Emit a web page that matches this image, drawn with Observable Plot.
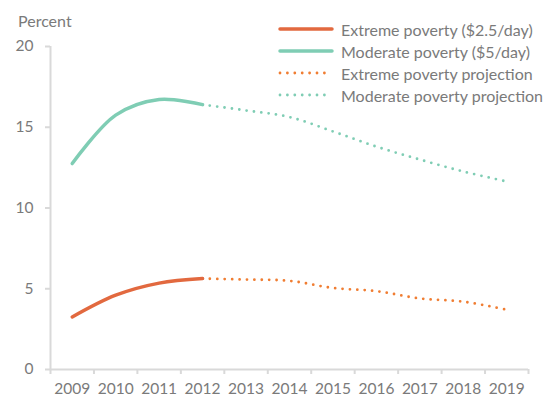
<!DOCTYPE html>
<html>
<head>
<meta charset="utf-8">
<script src="https://cdn.jsdelivr.net/npm/d3@7"></script>
<script src="https://cdn.jsdelivr.net/npm/@observablehq/plot@0.6"></script>
<style>
  body { margin: 0; background: #fff; font-family: Lato, "Open Sans", sans-serif; }
  #wrap { position: relative; width: 545px; height: 397px; }
  #ylabel { position: absolute; left: 18px; top: 11px; font-size: 16px; color: #7a7a7a; }
  #legend { position: absolute; left: 278px; top: 18px; font-size: 16px; color: #7a7a7a; }
  .row { display: flex; align-items: center; height: 22px; }
  .row svg { margin-right: 7px; }
</style>
</head>
<body>
<div id="wrap">
  <div id="chart"></div>
  <div id="ylabel">Percent</div>
  <div id="legend"></div>
</div>
<script>
const years = [2009, 2010, 2011, 2012, 2013, 2014, 2015, 2016, 2017, 2018, 2019];
const actualYears = [2009, 2010, 2011, 2012];
const extremeActual = [3.25, 4.6, 5.35, 5.63];
const moderateActual = [12.75, 15.75, 16.72, 16.4];
const projYears = [2012, 2013, 2014, 2015, 2016, 2017, 2018, 2019];
const extremeProj = [5.63, 5.57, 5.49, 5.05, 4.85, 4.4, 4.2, 3.7];
const moderateProj = [16.4, 16.04, 15.63, 14.74, 13.8, 13.0, 12.26, 11.64];
const yTicks = [0, 5, 10, 15, 20];

const colors = {
  extreme: "#e2693f",
  moderate: "#7fcdb4",
  extremeProj: "#f07d32",
  moderateProj: "#7fcdb4"
};

const xDomain = [years[0] - 0.5, years[years.length - 1] + 0.5];
const edges = [...years.map(y => y - 0.5), years[years.length - 1] + 0.5];

const toRows = (xs, vs) => xs.map((x, i) => ({x, v: vs[i]}));

const chart = Plot.plot({
  width: 545,
  height: 397,
  marginLeft: 50,
  marginRight: 17,
  marginTop: 46,
  marginBottom: 28,
  style: { fontFamily: "Lato, 'Open Sans', sans-serif", fontSize: "15.5px", color: "#7a7a7a", background: "#fff" },
  x: { domain: xDomain },
  y: { domain: [0, 20] },
  marks: [
    Plot.ruleX([xDomain[0]], { stroke: "#d9d9d9", strokeWidth: 2 }),
    Plot.ruleY([0], { stroke: "#d9d9d9", strokeWidth: 2 }),
    Plot.axisY({ ticks: yTicks, tickSize: 5, tickPadding: 12, stroke: "#d9d9d9", strokeWidth: 2, label: null, fill: "#7a7a7a" }),
    Plot.axisX({ ticks: edges, tickSize: 5, tickFormat: () => "", stroke: "#d9d9d9", strokeWidth: 2, label: null }),
    Plot.axisX({ ticks: years, tickSize: 0, tickPadding: 13, tickFormat: "d", label: null, fill: "#7a7a7a" }),
    Plot.line(toRows(projYears, moderateProj), { x: "x", y: "v", stroke: colors.moderateProj, strokeWidth: 2.8, strokeDasharray: "0 7.4", strokeLinecap: "round", curve: "catmull-rom" }),
    Plot.line(toRows(projYears, extremeProj), { x: "x", y: "v", stroke: colors.extremeProj, strokeWidth: 2.8, strokeDasharray: "0 7.4", strokeLinecap: "round", curve: "catmull-rom" }),
    Plot.line(toRows(actualYears, moderateActual), { x: "x", y: "v", stroke: colors.moderate, strokeWidth: 3.5, strokeLinecap: "round", curve: "catmull-rom" }),
    Plot.line(toRows(actualYears, extremeActual), { x: "x", y: "v", stroke: colors.extreme, strokeWidth: 3.5, strokeLinecap: "round", curve: "catmull-rom" })
  ]
});
document.getElementById("chart").appendChild(chart);

const legendItems = [
  { label: "Extreme poverty ($2.5/day)", color: colors.extreme, dotted: false },
  { label: "Moderate poverty ($5/day)", color: colors.moderate, dotted: false },
  { label: "Extreme poverty projection", color: colors.extremeProj, dotted: true },
  { label: "Moderate poverty projection", color: colors.moderateProj, dotted: true }
];
const legend = document.getElementById("legend");
for (const it of legendItems) {
  const row = document.createElement("div");
  row.className = "row";
  const dash = it.dotted ? 'stroke-dasharray="0 7.4" stroke-width="2.8"' : 'stroke-width="3.5"';
  row.innerHTML = `<svg width="56" height="8"><line x1="2" x2="${it.dotted ? 52 : 54}" y1="4" y2="4" stroke="${it.color}" ${dash} stroke-linecap="round"/></svg><span>${it.label}</span>`;
  legend.appendChild(row);
}
</script>
</body>
</html>
